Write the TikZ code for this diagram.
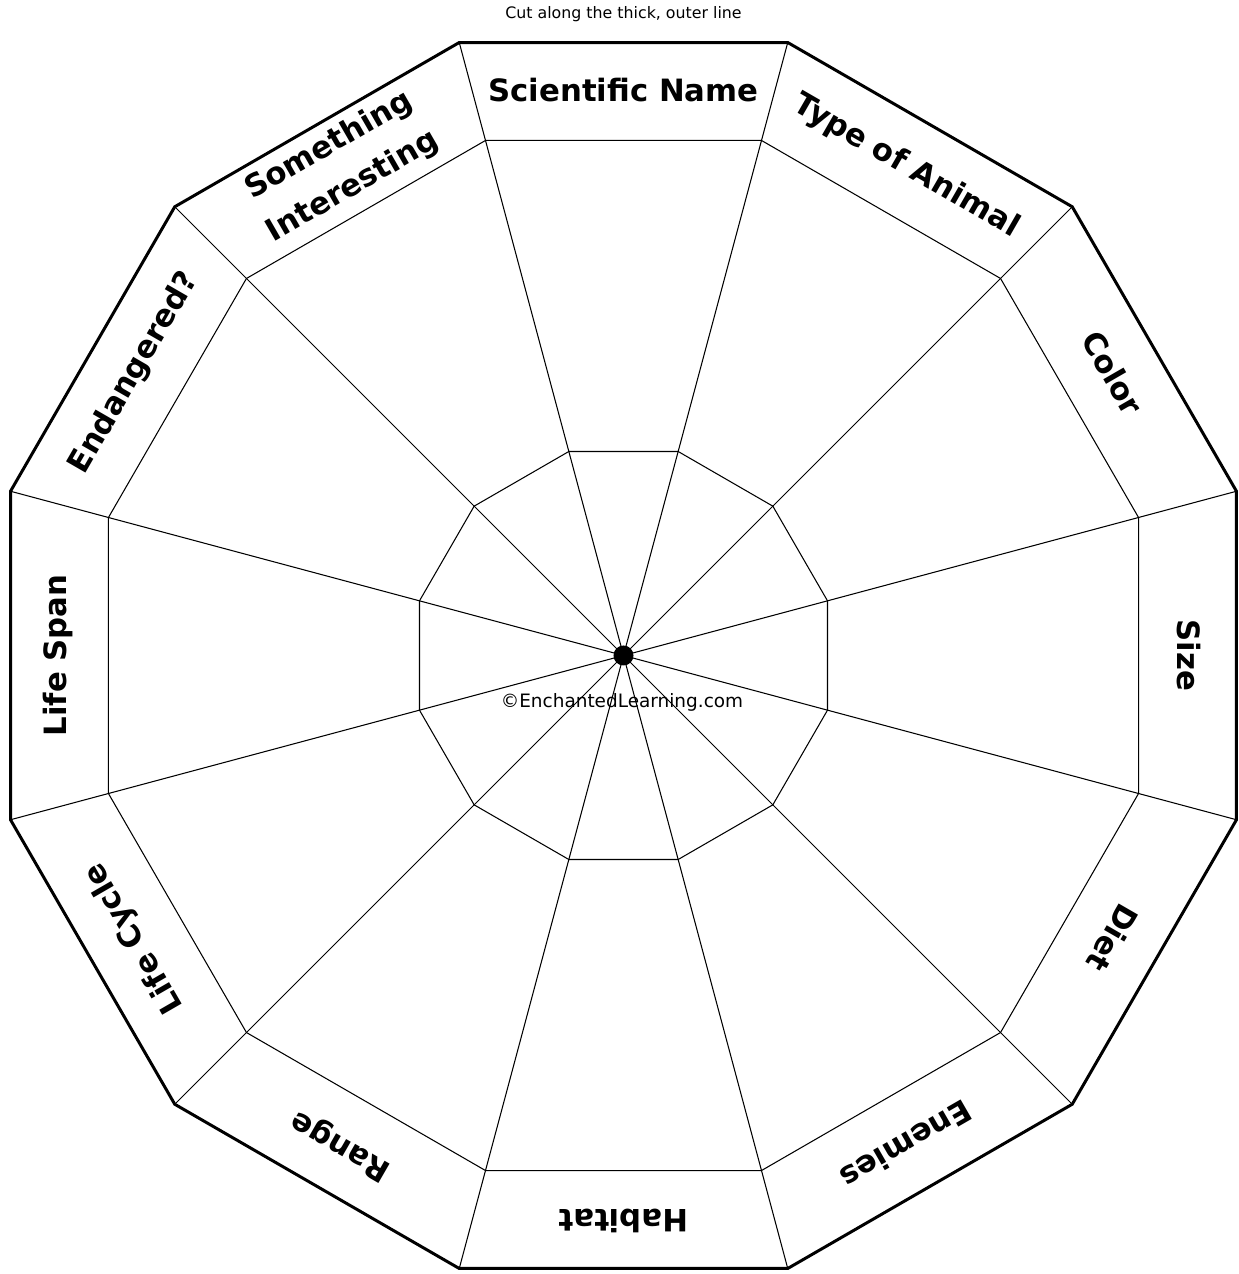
\documentclass[tikz,border=0pt]{standalone}
\usepackage{fontspec}
\setmainfont{DejaVu Sans}
\tikzset{
  cutline/.style={line width=1.7pt, line join=round},
  guideline/.style={line width=0.6pt},
  tablabel/.style={font=\bfseries\fontsize{17.5}{27}\selectfont, align=center, inner sep=0pt},
}
\begin{document}
\begin{tikzpicture}[x=0.02cm, y=0.02cm]
  \useasboundingbox (-623.5,-618.5) rectangle (614.5,655.5);

  % Hub
  \coordinate (hub) at (0,0);

  % Spokes
  \foreach \a in {15,45,...,345}
    \draw[guideline] (hub) -- (\a:634.6);

  % Inner ring and label band
  \draw[guideline] (15:211.2) \foreach \a in {45,75,...,345} { -- (\a:211.2) } -- cycle;
  \draw[guideline] (15:533.2) \foreach \a in {45,75,...,345} { -- (\a:533.2) } -- cycle;

  % Outer cut line
  \draw[cutline] (15:634.6) \foreach \a in {45,75,...,345} { -- (\a:634.6) } -- cycle;

  \fill (hub) circle (10);

  % Tab labels
  \foreach \ang/\name/\txt in {90/sci/Scientific Name, 60/type/Type of Animal,
      30/color/Color, 0/size/Size, -30/diet/Diet, -60/enemies/Enemies,
      -90/habitat/Habitat, -120/range/Range, -150/cycle/Life Cycle,
      180/span/Life Span, 150/endangered/Endangered?, 120/interesting/Something\\Interesting}
    \node[tablabel, rotate=\ang-90] (\name) at (\ang:565) {\txt};

  \node[font=\fontsize{9}{11}\selectfont] (cut) at (0,641.5) {Cut along the thick, outer line};
  \node[font=\fontsize{10.5}{12}\selectfont] (credit) at (-1.5,-46.5) {\textcopyright EnchantedLearning.com};
\end{tikzpicture}
\end{document}
